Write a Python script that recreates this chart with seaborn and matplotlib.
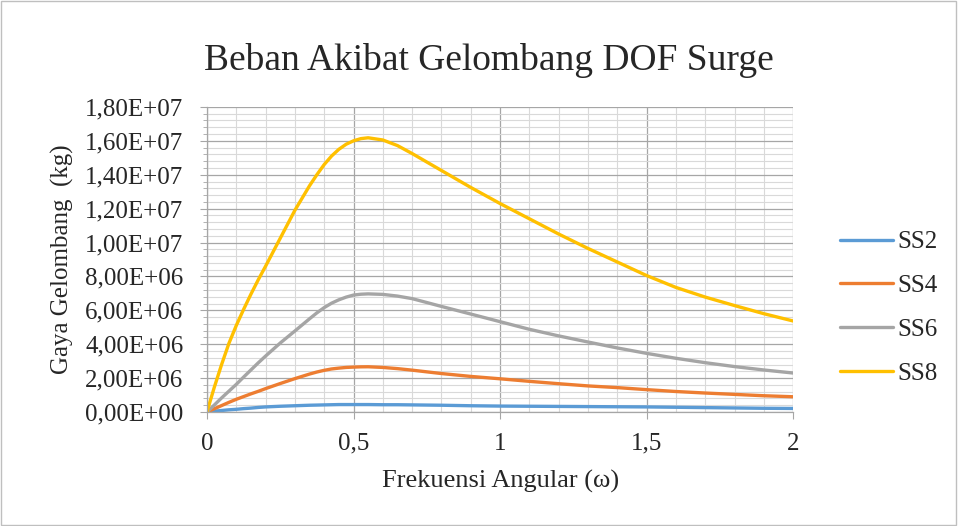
import pandas as pd
import matplotlib
matplotlib.use("Agg")
import matplotlib.pyplot as plt
import seaborn as sns
from matplotlib.ticker import MultipleLocator, FuncFormatter
from matplotlib.patches import Rectangle

# data (force in units of 1E6 kg)
omega = [0, 0.025, 0.05, 0.075, 0.1, 0.125, 0.15, 0.175, 0.2, 0.25, 0.3, 0.35, 0.375,
         0.4, 0.425, 0.45, 0.475, 0.5, 0.525, 0.55, 0.6, 0.65, 0.7, 0.8, 0.9, 1.0,
         1.1, 1.2, 1.3, 1.4, 1.5, 1.6, 1.7, 1.8, 1.9, 2.0]
ss2 = [0, 0.05, 0.09, 0.13, 0.16, 0.2, 0.23, 0.27, 0.3, 0.34, 0.37, 0.4, 0.41,
       0.42, 0.43, 0.44, 0.44, 0.44, 0.44, 0.44, 0.43, 0.43, 0.42, 0.40, 0.37, 0.35,
       0.34, 0.33, 0.32, 0.31, 0.30, 0.28, 0.26, 0.24, 0.22, 0.21]
ss4 = [0, 0.19, 0.38, 0.57, 0.75, 0.91, 1.07, 1.22, 1.38, 1.68, 1.97, 2.24, 2.36,
       2.46, 2.54, 2.59, 2.63, 2.65, 2.665, 2.67, 2.63, 2.56, 2.47, 2.27, 2.1, 1.96,
       1.81, 1.67, 1.54, 1.44, 1.32, 1.21, 1.12, 1.04, 0.96, 0.9]
ss6 = [0, 0.41, 0.83, 1.23, 1.63, 2.06, 2.48, 2.9, 3.3, 4.07, 4.78, 5.5, 5.85,
       6.16, 6.42, 6.62, 6.78, 6.9, 6.95, 6.97, 6.94, 6.84, 6.69, 6.23, 5.78, 5.33,
       4.88, 4.49, 4.13, 3.78, 3.46, 3.17, 2.91, 2.68, 2.48, 2.3]
ss8 = [0, 1.45, 2.8, 4.05, 5.1, 6.05, 6.95, 7.8, 8.6, 10.25, 11.9, 13.35, 14.0,
       14.6, 15.1, 15.5, 15.8, 16.0, 16.13, 16.18, 16.05, 15.72, 15.25, 14.25, 13.25, 12.3,
       11.4, 10.5, 9.65, 8.85, 8.05, 7.35, 6.78, 6.28, 5.8, 5.37]
series = ["SS2", "SS4", "SS6", "SS8"]
colors = ["#5B9BD5", "#ED7D31", "#A5A5A5", "#FFC000"]

rows = []
for name, vals in zip(series, [ss2, ss4, ss6, ss8]):
    for w, v in zip(omega, vals):
        rows.append({"omega": w, "gaya": v * 1e6, "seri": name})
df = pd.DataFrame(rows)

sns.set_style("white")
plt.rcParams["font.family"] = ["Liberation Serif", "DejaVu Serif"]

fig = plt.figure(figsize=(9.58, 5.26), dpi=100)
ax = fig.add_axes([0.216, 0.2167, 0.612, 0.58])

sns.lineplot(data=df, x="omega", y="gaya", hue="seri", palette=colors,
             linewidth=2.4, ax=ax, legend=False, sort=False)
for ln in ax.lines:
    ln.set_solid_joinstyle("round")
    ln.set_solid_capstyle("round")

ax.set_xlim(0, 2)
ax.set_ylim(0, 1.8e7)
ax.xaxis.set_major_locator(MultipleLocator(0.5))
ax.xaxis.set_minor_locator(MultipleLocator(0.1))
ax.yaxis.set_major_locator(MultipleLocator(2e6))
ax.yaxis.set_minor_locator(MultipleLocator(4e5))
ax.grid(which="major", color="#a6a6a6", linewidth=0.9)
ax.grid(which="minor", color="#d9d9d9", linewidth=0.8)
ax.set_axisbelow(True)

ax.yaxis.set_major_formatter(FuncFormatter(lambda v, p: f"{v:.2E}".replace(".", ",")))
ax.xaxis.set_major_formatter(FuncFormatter(lambda v, p: f"{v:g}".replace(".", ",")))

for s in ["top", "right"]:
    ax.spines[s].set_visible(False)
for s in ["left", "bottom"]:
    ax.spines[s].set_color("#a6a6a6")
    ax.spines[s].set_linewidth(0.9)
ax.tick_params(which="major", direction="out", length=5, color="#a6a6a6",
               labelsize=18, left=True, bottom=True)
ax.tick_params(axis="x", which="major", pad=10)
ax.tick_params(axis="y", which="major", pad=12)
ax.tick_params(which="minor", direction="out", length=3, color="#a6a6a6",
               left=True, bottom=False)

ax.set_xlabel("Frekuensi Angular (ω)", fontsize=19, labelpad=11)
ax.set_ylabel("Gaya Gelombang  (kg)", fontsize=18, labelpad=8)
fig.text(0.51, 0.885, "Beban Akibat Gelombang DOF Surge", fontsize=27,
         ha="center", va="center")

handles = [plt.Line2D([], [], color=c, linewidth=2.4) for c in colors]
fig.legend(handles, series, loc="center left", bbox_to_anchor=(0.877, 0.415),
           frameon=False, fontsize=18, handlelength=2.1, handletextpad=0.2,
           labelspacing=0.85, borderaxespad=0, borderpad=0)

fig.patches.append(Rectangle((0.001, 0.002), 0.997, 0.996, transform=fig.transFigure,
                             fill=False, edgecolor="#bfbfbf", linewidth=1))

fig.savefig("out.png", dpi=100)
